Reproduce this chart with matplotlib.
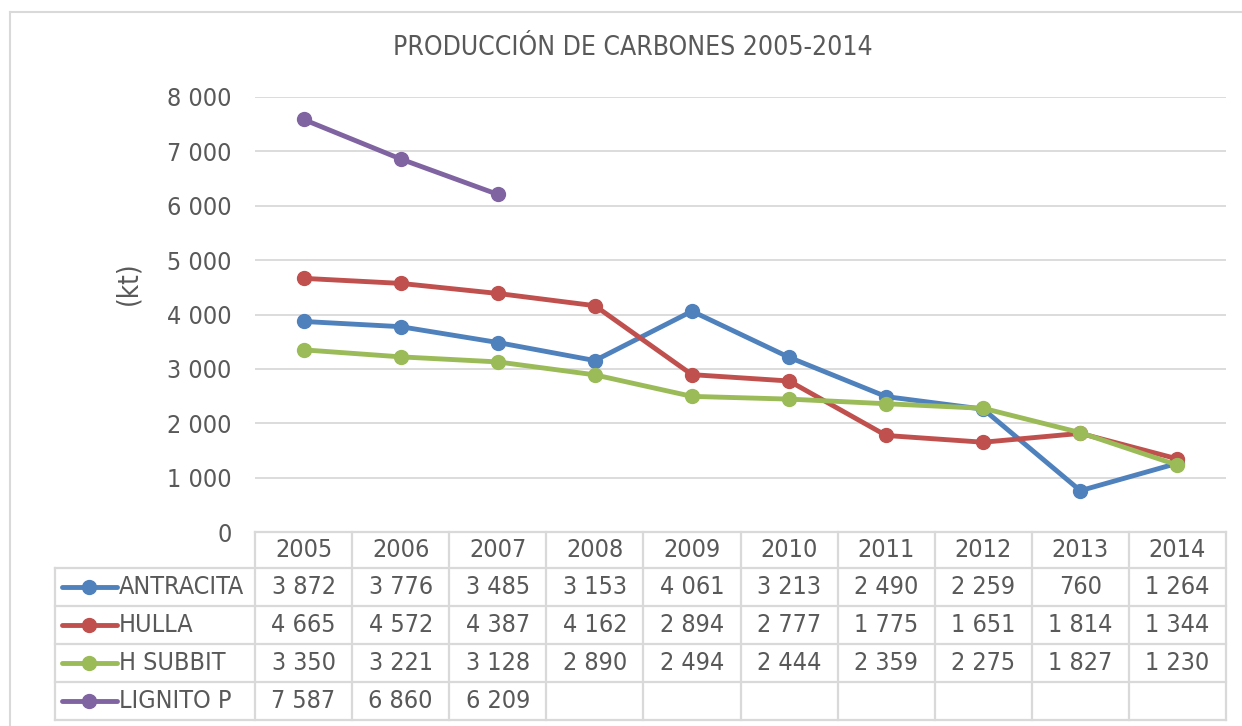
import numpy as np
import matplotlib
matplotlib.use("Agg")
import matplotlib.pyplot as plt
from matplotlib.lines import Line2D

plt.rcParams['font.family'] = ['DejaVu Sans']
plt.rcParams['font.stretch'] = 'condensed'

# data (kt)
years = ['2005', '2006', '2007', '2008', '2009', '2010', '2011', '2012', '2013', '2014']
antracita = [3872, 3776, 3485, 3153, 4061, 3213, 2490, 2259, 760, 1264]
hulla = [4665, 4572, 4387, 4162, 2894, 2777, 1775, 1651, 1814, 1344]
h_subbit = [3350, 3221, 3128, 2890, 2494, 2444, 2359, 2275, 1827, 1230]
lignito_p = [7587, 6860, 6209, None, None, None, None, None, None, None]
series_names = ['ANTRACITA', 'HULLA', 'H SUBBIT', 'LIGNITO P']
colors = ['#4F81BD', '#C0504D', '#9BBB59', '#8064A2']

W, H = 1242, 726
TXT = '#595959'
GRID = '#D9D9D9'
FS = 18


def fx(px):
    return px / W


def fy(py):
    return 1 - py / H


def fmt(v):
    return f'{v:,.0f}'.replace(',', ' ')


fig = plt.figure(figsize=(W / 100, H / 100), dpi=100)
ax = fig.add_axes([fx(255), fy(532), fx(1226) - fx(255), fy(97) - fy(532)])

x = np.arange(len(years))
all_series = [antracita, hulla, h_subbit, lignito_p]
for vals, c in zip(all_series, colors):
    y = np.array([np.nan if v is None else v for v in vals], dtype=float)
    ax.plot(x, y, color=c, lw=3.5, marker='o', ms=10, solid_capstyle='round', zorder=3)

ax.set_xlim(-0.5, len(years) - 0.5)
ax.set_ylim(0, 8000)
ax.set_yticks(range(0, 8001, 1000))
ax.set_yticklabels([fmt(v) for v in range(0, 8001, 1000)], fontsize=FS, color=TXT)
ax.tick_params(axis='y', length=0, pad=17)
ax.set_xticks([])
ax.grid(axis='y', color=GRID, lw=1.3)
ax.set_axisbelow(True)
for s in ax.spines.values():
    s.set_visible(False)

fig.text(fx(128), fy(283), '(kt)', rotation=90, ha='center', va='center',
         fontsize=FS + 2, color=TXT)
fig.text(fx(633), fy(48), 'PRODUCCIÓN DE CARBONES 2005-2014', ha='center', va='center',
         fontsize=FS + 1, color=TXT)

# outer chart frame
fig.add_artist(Line2D([fx(10), fx(10)], [fy(12), fy(726)], color=GRID, lw=1.5))
fig.add_artist(Line2D([fx(10), fx(1242)], [fy(12), fy(12)], color=GRID, lw=1.5))

# data table
fig.canvas.draw()
to_fig = fig.transFigure.inverted()
col_edges = [to_fig.transform(ax.transData.transform((i - 0.5, 0)))[0] for i in range(len(years) + 1)]
col_cent = [to_fig.transform(ax.transData.transform((i, 0)))[0] for i in range(len(years))]
row_lines = [532, 568, 606, 644, 682, 720]
left_edge = fx(55)
tl = dict(color=GRID, lw=1.6)

fig.add_artist(Line2D([col_edges[0], col_edges[-1]], [fy(row_lines[0])] * 2, **tl))
for r in row_lines[1:]:
    fig.add_artist(Line2D([left_edge, col_edges[-1]], [fy(r)] * 2, **tl))
for e in col_edges:
    fig.add_artist(Line2D([e, e], [fy(row_lines[0]), fy(row_lines[-1])], **tl))
fig.add_artist(Line2D([left_edge, left_edge], [fy(row_lines[1]), fy(row_lines[-1])], **tl))

hdr_y = fy((row_lines[0] + row_lines[1]) / 2)
for cx, yr in zip(col_cent, years):
    fig.text(cx, hdr_y, yr, ha='center', va='center', fontsize=FS, color=TXT)

for k, (name, vals, c) in enumerate(zip(series_names, all_series, colors)):
    ry = fy((row_lines[k + 1] + row_lines[k + 2]) / 2)
    fig.add_artist(Line2D([fx(62), fx(117)], [ry, ry], color=c, lw=3.5,
                          solid_capstyle='round'))
    fig.add_artist(Line2D([fx(89)], [ry], color=c, marker='o', ms=10, lw=0))
    fig.text(fx(119), ry, name, ha='left', va='center', fontsize=FS, color=TXT)
    for cx, v in zip(col_cent, vals):
        if v is not None:
            fig.text(cx, ry, fmt(v), ha='center', va='center', fontsize=FS, color=TXT)

fig.savefig('out.png', dpi=100, facecolor='white')
